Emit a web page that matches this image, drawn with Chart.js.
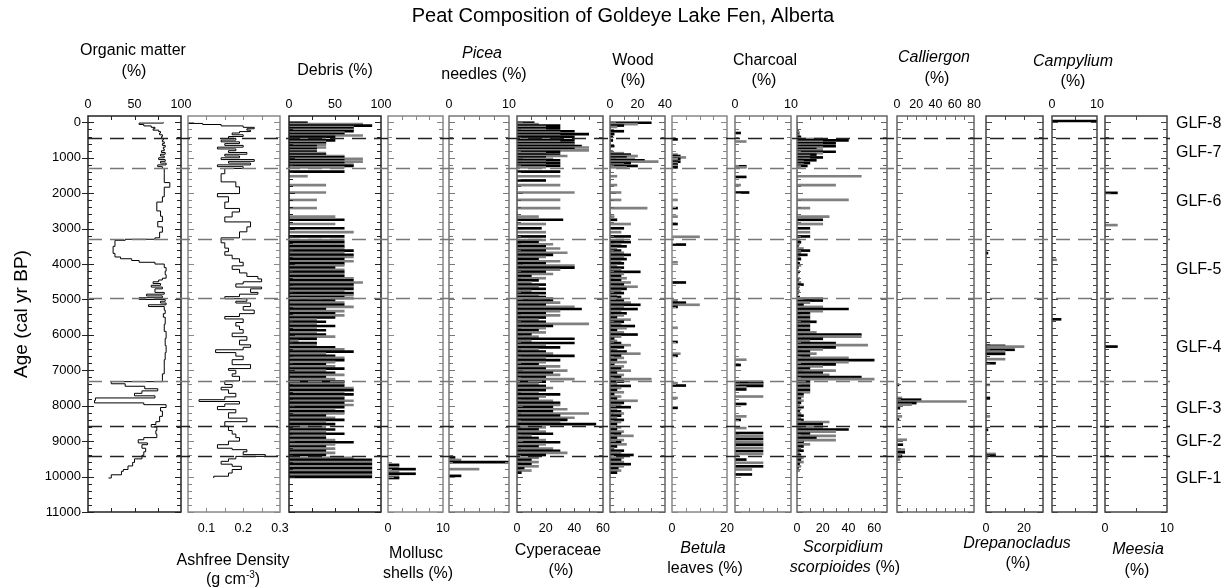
<!DOCTYPE html>
<html>
<head>
<meta charset="utf-8">
<title>Peat Composition of Goldeye Lake Fen, Alberta</title>
<script src="https://cdn.jsdelivr.net/npm/chart.js@4.4.1/dist/chart.umd.min.js"></script>
<style>
  body { margin: 0; background: #fff; }
  #wrap { position: relative; width: 1230px; height: 588px; overflow: hidden;
          font-family: "Liberation Sans", Arial, sans-serif; color: #000; }
  #wrap canvas { position: absolute; top: 0; }
  .lbl { position: absolute; white-space: nowrap; transform: translate(-50%, -50%);
         font-size: 16px; line-height: 1; }
  .lbl sup { font-size: 10px; line-height: 0; }
</style>
</head>
<body>
<div id="wrap"></div>
<script>
// ---- data ----

// macrofossil sample ages, cal yr BP (one line per zone, GLF-8 .. GLF-1)
const sampleAges = [
  10, 50, 90, 130, 170, 210, 250, 290, 330, 370, 410,
  470, 510, 550, 590, 630, 670, 710, 750, 790, 830, 870, 910, 950, 990, 1030, 1070, 1110, 1150, 1190, 1230, 1270,
  1390, 1520, 1640, 1770, 1880, 1980, 2090, 2190, 2310, 2420, 2540, 2660, 2750, 2870, 2990, 3100, 3220,
  3320, 3380, 3440, 3500, 3560, 3620, 3680, 3740, 3800, 3860, 3920, 3980, 4040, 4100, 4160, 4220, 4280, 4340, 4400, 4460, 4520, 4580, 4640, 4700, 4760, 4820, 4880, 4930,
  4970, 5030, 5090, 5150, 5210, 5270, 5330, 5390, 5450, 5510, 5570, 5630, 5690, 5750, 5810, 5870, 5930, 5990, 6050, 6110, 6170, 6230, 6290, 6350, 6410, 6470, 6530, 6590, 6650, 6710, 6770, 6830, 6890, 6950, 7010, 7070, 7130, 7190, 7250,
  7320, 7380, 7440, 7500, 7560, 7620, 7680, 7740, 7800, 7860, 7920, 7980, 8040, 8100, 8160, 8220, 8280, 8340, 8400, 8460, 8520,
  8610, 8670, 8730, 8790, 8850, 8910, 8970, 9030, 9090, 9150, 9210, 9270, 9330, 9390,
  9470, 9530, 9590, 9650, 9710, 9770, 9830, 9890, 9950, 10010
];
const debrisPct = [
  20, 80, 90, 70, 70, 70, 70, 60, 60, 80, 50,
  40, 50, 40, 40, 40, 30, 40, 30, 30, 30, 40, 40, 60, 60, 80, 60, 80, 60, 70, 70, 60,
  60, 20, 0, 40, 0, 40, 0, 30, 0, 30, 0, 50, 60, 50, 60, 70, 60,
  60, 60, 60, 60, 60, 70, 60, 70, 70, 60, 70, 60, 60, 50, 60, 60, 60, 60, 70, 70, 80, 70, 70, 70, 60, 70, 70, 60,
  70, 50, 60, 60, 70, 40, 60, 50, 60, 50, 30, 40, 30, 50, 30, 40, 30, 40, 50, 30, 10, 30, 30, 50, 60, 70, 40, 50, 60, 60, 50, 40, 50, 60, 40, 50, 60, 40, 50,
  60, 60, 60, 70, 70, 60, 70, 60, 60, 70, 60, 70, 60, 50, 60, 60, 40, 50, 60, 40, 50,
  40, 50, 40, 60, 40, 40, 50, 70, 50, 40, 50, 40, 50, 40,
  70, 90, 90, 90, 90, 90, 90, 90, 90, 90
];
const cyperaceaePct = [
  12, 15, 30, 20, 30, 20, 40, 30, 50, 30, 40,
  30, 40, 30, 40, 40, 45, 50, 40, 50, 30, 20, 30, 35, 20, 25, 30, 20, 30, 20, 30, 20,
  30, 30, 20, 30, 0, 40, 0, 30, 0, 30, 0, 15, 32, 20, 17, 20, 20,
  20, 15, 25, 20, 30, 20, 35, 25, 20, 15, 30, 20, 40, 40, 30, 20, 25, 10, 20, 15, 10, 20, 15, 20, 10, 20, 15, 20,
  25, 25, 30, 20, 40, 45, 30, 20, 30, 20, 15, 20, 50, 25, 20, 15, 20, 10, 15, 40, 10, 40, 20, 30, 15, 20, 25, 40, 20, 30, 20, 15, 30, 20, 35, 25, 30, 20, 40,
  20, 15, 20, 25, 20, 15, 30, 20, 15, 25, 30, 30, 25, 35, 25, 50, 30, 40, 35, 30, 55,
  20, 15, 20, 25, 10, 15, 20, 30, 20, 15, 25, 30, 35, 20,
  15, 10, 15, 10, 15, 5, 10, 3, 0, 0
];
const woodPct = [
  30, 20, 10, 5, 0, 0, 10, 0, 3, 0, 2,
  0, 2, 0, 0, 0, 3, 0, 0, 0, 2, 10, 15, 20, 12, 18, 25, 35, 15, 10, 20, 12,
  0, 5, 0, 5, 0, 8, 0, 8, 0, 27, 0, 3, 5, 15, 10, 8, 15,
  10, 15, 8, 12, 5, 8, 10, 15, 10, 12, 8, 10, 5, 10, 8, 22, 10, 8, 12, 8, 15, 10, 20, 12, 8, 10, 5, 8,
  5, 10, 15, 22, 10, 20, 8, 12, 10, 5, 15, 10, 8, 18, 12, 5, 10, 20, 8, 3, 5, 8, 15, 10, 5, 12, 22, 8, 10, 5, 12, 3, 10, 8, 15, 5, 10, 8, 30,
  10, 5, 15, 8, 5, 10, 3, 8, 5, 20, 10, 8, 15, 5, 8, 10, 8, 5, 10, 8, 5,
  8, 5, 10, 8, 17, 5, 10, 8, 12, 5, 3, 10, 8, 17,
  10, 8, 10, 15, 10, 6, 8, 5, 0, 0
];
const scorpidiumPct = [
  0, 0, 0, 0, 0, 0, 1, 2, 1, 2, 3,
  20, 40, 20, 30, 20, 30, 20, 15, 20, 30, 20, 15, 10, 20, 10, 15, 5, 10, 5, 8, 3,
  0, 50, 0, 30, 0, 0, 0, 40, 0, 10, 0, 25, 20, 20, 10, 10, 10,
  2, 3, 2, 1, 5, 10, 3, 8, 2, 3, 1, 2, 3, 1, 0, 2, 1, 0, 2, 1, 3, 5, 2, 1, 2, 1, 0, 2,
  20, 20, 10, 5, 20, 40, 20, 10, 10, 10, 10, 15, 10, 10, 10, 10, 15, 50, 50, 20, 10, 30, 55, 30, 20, 10, 15, 10, 40, 60, 40, 30, 20, 10, 30, 20, 25, 50, 60,
  10, 10, 10, 10, 10, 10, 5, 5, 3, 5, 3, 2, 5, 3, 2, 3, 5, 3, 5, 25, 20,
  20, 40, 30, 10, 30, 15, 30, 5, 10, 5, 3, 5, 2, 3,
  5, 3, 5, 2, 3, 1, 2, 0, 0, 0
];

// loss-on-ignition profiles
const organicAges = [0, 20, 60, 100, 140, 180, 220, 260, 300, 350, 400, 450, 500, 550, 600, 650, 700, 750, 800, 850,
  900, 950, 1000, 1050, 1100, 1150, 1200, 1250, 1300, 1450, 1700, 1830, 2100, 2250, 2500, 2650, 2800, 2950, 3100, 3260,
  3300, 3330, 3500, 3700, 3800, 3850, 3900, 3950, 4000, 4100, 4200, 4300, 4400, 4450, 4500, 4550, 4600, 4650, 4700, 4800,
  4850, 4900, 4950, 5000, 5050, 5100, 5150, 5200, 5300, 5400, 5500, 5700, 5900, 6100, 6300, 6500, 6700, 6900, 7100, 7250,
  7320, 7380, 7450, 7520, 7580, 7650, 7720, 7780, 7850, 7920, 7970, 8050, 8150, 8300, 8450, 8530, 8600, 8700, 8800, 8900,
  8960, 9050, 9100, 9200, 9300, 9400, 9500, 9600, 9700, 9800, 9850, 9950, 10040];
const organicPct = [81, 55, 60, 68, 72, 70, 76, 78, 77, 80, 79, 81, 80, 82, 80, 83, 81, 82, 79, 83,
  78, 82, 76, 83, 78, 84, 75, 80, 82, 82, 88, 82, 80, 74, 78, 80, 75, 80, 77, 72,
  40, 29, 27, 29, 35, 47, 55, 72, 82, 84, 83, 84, 80, 76, 70, 78, 68, 80, 72, 82,
  63, 80, 55, 83, 78, 84, 65, 82, 83, 81, 83, 82, 84, 83, 84, 83, 82, 82, 80, 80,
  25, 40, 61, 75, 58, 50, 72, 8, 7, 60, 84, 78, 80, 77, 73, 68, 74, 73, 74, 60,
  54, 64, 58, 62, 60, 58, 50, 48, 43, 38, 36, 25, 22];

const densityAges = [0, 30, 60, 100, 140, 180, 220, 260, 300, 350, 400, 450, 500, 550, 600, 650, 700, 750, 800, 850,
  900, 950, 1000, 1050, 1100, 1150, 1200, 1250, 1300, 1450, 1680, 1820, 2010, 2100, 2250, 2430, 2530, 2670, 2810, 2950,
  3090, 3260, 3400, 3550, 3650, 3750, 3850, 3950, 4050, 4150, 4250, 4350, 4420, 4500, 4560, 4650, 4700, 4800, 4850, 4920,
  4980, 5050, 5100, 5200, 5300, 5400, 5480, 5550, 5650, 5750, 5850, 5950, 6050, 6150, 6280, 6350, 6420, 6500, 6600, 6700,
  6840, 6950, 7000, 7100, 7170, 7300, 7400, 7480, 7550, 7650, 7750, 7830, 7880, 7950, 8020, 8110, 8200, 8350, 8450, 8580,
  8700, 8800, 8900, 9000, 9100, 9200, 9240, 9300, 9380, 9430, 9500, 9570, 9650, 9710, 9800, 9900, 9990, 10040];
const ashfreeDensity = [0.05, 0.09, 0.14, 0.2, 0.23, 0.21, 0.22, 0.19, 0.17, 0.2, 0.16, 0.18, 0.14, 0.19, 0.15, 0.2, 0.13, 0.18, 0.16, 0.21,
  0.15, 0.19, 0.14, 0.23, 0.16, 0.22, 0.13, 0.2, 0.15, 0.14, 0.18, 0.19, 0.13, 0.16, 0.15, 0.19, 0.17, 0.15, 0.22, 0.21,
  0.19, 0.14, 0.15, 0.16, 0.15, 0.17, 0.19, 0.2, 0.17, 0.19, 0.21, 0.24, 0.25, 0.2, 0.18, 0.25, 0.22, 0.24, 0.19, 0.15,
  0.21, 0.18, 0.22, 0.2, 0.23, 0.19, 0.15, 0.2, 0.18, 0.19, 0.2, 0.17, 0.21, 0.19, 0.22, 0.2, 0.125, 0.18, 0.2, 0.17,
  0.22, 0.16, 0.18, 0.17, 0.19, 0.15, 0.17, 0.14, 0.16, 0.18, 0.15, 0.08, 0.19, 0.15, 0.13, 0.18, 0.16, 0.21, 0.15, 0.16,
  0.17, 0.18, 0.19, 0.16, 0.13, 0.17, 0.21, 0.2, 0.26, 0.18, 0.16, 0.14, 0.17, 0.195, 0.17, 0.16, 0.12, 0.12];

// sparse records (only levels where the taxon was found)
const molluscAges = [9670, 9740, 9790, 9860, 9920, 10000, 10040];
const molluscPct = [2, 2, 5, 2, 5, 2, 2];
const piceaAges = [9460, 9530, 9590, 9790, 9980];
const piceaPct = [1, 2, 10, 5, 2];
const betulaAges = [480, 910, 950, 990, 1030, 1070, 1110, 1150, 1190, 1230, 1270, 2190, 2420, 2660, 2870, 3230,
  3450, 3950, 4520, 5030, 5090, 5150, 5210, 5800, 6200, 6530, 6590, 7360, 7430, 7780, 8060];
const betulaPct = [2, 2, 3, 5, 3, 2, 3, 2, 2, 2, 2, 2, 2, 2, 2, 10, 5, 2, 5, 2, 5, 10, 2, 2, 2, 3, 2, 2, 5, 2, 2];
const charcoalAges = [300, 540, 1240, 1270, 1540, 1770, 1980, 6700, 6850, 7320, 7360, 7400, 7440, 7480, 7540, 7740,
  7950, 8300, 8400, 8630, 8770, 8860, 8940, 9030, 9100, 9190, 9280, 9360, 9520, 9610, 9710, 9800, 9940];
const charcoalPct = [1, 2, 2, 2, 2, 1, 2.5, 2, 1, 5, 5, 5, 5, 2, 2, 5, 2, 2, 1, 2, 5, 5, 5, 5, 5, 5, 5, 5, 2, 5, 5, 3, 3];
const calliergonAges = [7410, 7780, 7830, 7880, 7925, 7970, 8070, 8300, 8390, 8960, 9100, 9240, 9315, 9380, 9430, 9520];
const calliergonPct = [2, 5, 25, 72, 20, 15, 3, 5, 2, 10, 6, 8, 8, 5, 5, 3];
const drepanocladusAges = [3690, 6290, 6310, 6330, 6420, 6470, 6535, 6685, 6800, 7410, 7780, 8300, 8680, 9360, 9410, 9475];
const drepanocladusPct = [1, 2, 10, 20, 15, 10, 10, 10, 5, 2, 2, 2, 1, 5, 5, 1];
const campyliumAges = [-40, 3880, 5560];
const campyliumPct = [10, 1, 2];
const meesiaAges = [1990, 2900, 6330];
const meesiaPct = [2, 2, 2];

// zonation
const zoneBounds = [450, 1300, 3300, 4950, 7300, 8580, 9430];
const zoneNames = ['GLF-8', 'GLF-7', 'GLF-6', 'GLF-5', 'GLF-4', 'GLF-3', 'GLF-2', 'GLF-1'];
const zoneLabelAges = [45, 864, 2237, 4144, 6372, 8093, 9006, 10068];

// tick labels
const ageTicks = [0, 1000, 2000, 3000, 4000, 5000, 6000, 7000, 8000, 9000, 10000, 11000];
const organicTicks = [0, 50, 100];
const densityTicks = [0.1, 0.2, 0.3];
const debrisTicks = [0, 50, 100];
const molluscTicks = [0, 10];
const piceaTicks = [0, 10];
const cyperaceaeTicks = [0, 20, 40, 60];
const woodTicks = [0, 20, 40];
const betulaTicks = [0, 20];
const charcoalTicks = [0, 10];
const scorpidiumTicks = [0, 20, 40, 60];
const calliergonTicks = [0, 20, 40, 60, 80];
const drepanocladusTicks = [0, 20];
const campyliumTicks = [0, 10];
const meesiaTicks = [0, 10];

// ---- layout ----
const FONT = '"Liberation Sans", Arial, sans-serif';
const TOP = 116, BOTTOM = 512, H = 588, AXIS_H = 30;
const AGE_MIN = -180, AGE_MAX = 11000;

Chart.defaults.font.family = FONT;
Chart.defaults.color = '#000';

const panels = [
  { left: 88, right: 181, min: 0, max: 100, minor: 25, axis: 'top', kind: 'step', ages: organicAges, values: organicPct, ticks: organicTicks, frame: '#222', yLabels: true },
  { left: 188, right: 280, min: 0.05, max: 0.3, minor: 0.05, axis: 'bottom', kind: 'step', ages: densityAges, values: ashfreeDensity, ticks: densityTicks, frame: '#888' },
  { left: 289, right: 381, min: 0, max: 100, minor: 25, axis: 'top', kind: 'bar', ages: sampleAges, values: debrisPct, ticks: debrisTicks, frame: '#222' },
  { left: 388, right: 443, min: 0, max: 10, minor: 2.5, axis: 'bottom', kind: 'bar', ages: molluscAges, values: molluscPct, ticks: molluscTicks, frame: '#888' },
  { left: 449, right: 509, min: 0, max: 10, minor: 2.5, axis: 'top', kind: 'bar', ages: piceaAges, values: piceaPct, ticks: piceaTicks, frame: '#777' },
  { left: 517, right: 603, min: 0, max: 60, minor: 10, axis: 'bottom', kind: 'bar', ages: sampleAges, values: cyperaceaePct, ticks: cyperaceaeTicks, frame: '#555' },
  { left: 610, right: 665, min: 0, max: 40, minor: 10, axis: 'top', kind: 'bar', ages: sampleAges, values: woodPct, ticks: woodTicks, frame: '#666' },
  { left: 672, right: 727, min: 0, max: 20, minor: 5, axis: 'bottom', kind: 'bar', ages: betulaAges, values: betulaPct, ticks: betulaTicks, frame: '#888' },
  { left: 735, right: 791, min: 0, max: 10, minor: 2.5, axis: 'top', kind: 'bar', ages: charcoalAges, values: charcoalPct, ticks: charcoalTicks, frame: '#777' },
  { left: 797, right: 887, min: 0, max: 70, minor: 10, axis: 'bottom', kind: 'bar', ages: sampleAges, values: scorpidiumPct, ticks: scorpidiumTicks, frame: '#666' },
  { left: 897, right: 974, min: 0, max: 80, minor: 10, axis: 'top', kind: 'bar', ages: calliergonAges, values: calliergonPct, ticks: calliergonTicks, frame: '#666' },
  { left: 986, right: 1043, min: 0, max: 30, minor: 10, axis: 'bottom', kind: 'bar', ages: drepanocladusAges, values: drepanocladusPct, ticks: drepanocladusTicks, frame: '#444' },
  { left: 1052, right: 1097, min: 0, max: 10, minor: 5, axis: 'top', kind: 'bar', ages: campyliumAges, values: campyliumPct, ticks: campyliumTicks, frame: '#444' },
  { left: 1105, right: 1167, min: 0, max: 10, minor: 5, axis: 'bottom', kind: 'bar', ages: meesiaAges, values: meesiaPct, ticks: meesiaTicks, frame: '#444' }
];

const wrap = document.getElementById('wrap');

// frame, inward tick marks on all four sides
function makeFrame(p) {
  return {
    id: 'frame',
    afterDraw(chart) {
      const { ctx, chartArea: a, scales: { x, y } } = chart;
      ctx.save();
      ctx.strokeStyle = p.frame;
      ctx.lineWidth = 1;
      ctx.beginPath();
      for (let v = 0; v <= 11000; v += 200) {
        const py = Math.round(y.getPixelForValue(v)) + 0.5;
        const len = v % 1000 === 0 ? 6 : 4;
        ctx.moveTo(a.left, py); ctx.lineTo(a.left + len, py);
        ctx.moveTo(a.right, py); ctx.lineTo(a.right - len, py);
        if (p.yLabels && v % 1000 === 0) {
          ctx.moveTo(a.left, py); ctx.lineTo(a.left - 6, py);
        }
      }
      for (let v = p.min + p.minor; v < p.max - 1e-9; v += p.minor) {
        const px = Math.round(x.getPixelForValue(v)) + 0.5;
        ctx.moveTo(px, a.top); ctx.lineTo(px, a.top + 4);
        ctx.moveTo(px, a.bottom); ctx.lineTo(px, a.bottom - 4);
      }
      ctx.stroke();
      ctx.lineWidth = 1.5;
      ctx.strokeRect(a.left, a.top, a.right - a.left, a.bottom - a.top);
      ctx.restore();
    }
  };
}

panels.forEach(p => {
  const yAxisW = p.yLabels ? 88 : 0;
  const padLeft = p.yLabels ? 0 : 50;
  const cLeft = p.left - yAxisW - padLeft;
  const canvas = document.createElement('canvas');
  canvas.width = p.right + 20 - cLeft;
  canvas.height = H;
  canvas.style.left = cLeft + 'px';
  wrap.appendChild(canvas);

  const points = p.ages.map((a, i) => ({ x: p.values[i], y: a }));
  const dataset = p.kind === 'bar'
    ? { data: points, backgroundColor: points.map((pt, i) => i % 2 ? '#808080' : '#000'), barThickness: 2, borderWidth: 0 }
    : { data: points, showLine: true, stepped: 'after', borderColor: '#000', borderWidth: 1, pointRadius: 0, fill: false };

  new Chart(canvas, {
    type: p.kind === 'bar' ? 'bar' : 'scatter',
    data: { datasets: [dataset] },
    options: {
      responsive: false,
      animation: false,
      devicePixelRatio: 1,
      indexAxis: p.kind === 'bar' ? 'y' : 'x',
      layout: {
        padding: {
          left: padLeft, right: 20,
          top: p.axis === 'top' ? TOP - AXIS_H : TOP,
          bottom: p.axis === 'top' ? H - BOTTOM : H - BOTTOM - AXIS_H
        }
      },
      plugins: { legend: { display: false }, tooltip: { enabled: false } },
      scales: {
        x: {
          type: 'linear', position: p.axis, min: p.min, max: p.max,
          grid: { display: false, drawTicks: false }, border: { display: false },
          ticks: { font: { size: 12.5 }, color: '#000', padding: p.axis === 'top' ? 4 : 9,
                   autoSkip: false, maxRotation: 0, callback: v => String(v) },
          afterBuildTicks: s => { s.ticks = p.ticks.map(v => ({ value: v })); },
          afterFit: s => { s.height = AXIS_H; }
        },
        y: {
          type: 'linear', reverse: true, min: AGE_MIN, max: AGE_MAX, offset: false,
          display: !!p.yLabels,
          grid: { display: false, drawTicks: false }, border: { display: false },
          ticks: { font: { size: 13 }, color: '#000', padding: 7, autoSkip: false, callback: v => String(v) },
          title: { display: true, text: 'Age (cal yr BP)', font: { size: 19 }, color: '#000', padding: { top: 10 } },
          afterBuildTicks: s => { s.ticks = ageTicks.map(v => ({ value: v })); },
          afterFit: s => { s.width = yAxisW; }
        }
      }
    },
    plugins: [makeFrame(p)]
  });
});

// overlay: zone boundaries and zone names, on top of all panels
const overlay = document.createElement('canvas');
overlay.width = 1230; overlay.height = H;
overlay.style.left = '0px';
overlay.style.zIndex = 5;
overlay.style.pointerEvents = 'none';
wrap.appendChild(overlay);

const zoneLineColors = ['#222', '#777', '#777', '#777', '#777', '#222', '#222'];
new Chart(overlay, {
  type: 'scatter',
  data: { datasets: [] },
  options: {
    responsive: false, animation: false, devicePixelRatio: 1,
    layout: { padding: { top: TOP, bottom: H - BOTTOM, left: 0, right: 0 } },
    plugins: { legend: { display: false }, tooltip: { enabled: false } },
    scales: {
      x: { display: false, min: 0, max: 1 },
      y: { display: false, reverse: true, min: AGE_MIN, max: AGE_MAX }
    }
  },
  plugins: [{
    id: 'zones',
    afterDraw(chart) {
      const { ctx, scales: { y } } = chart;
      ctx.save();
      ctx.lineWidth = 1.5;
      ctx.setLineDash([14, 8]);
      zoneBounds.forEach((age, i) => {
        const py = Math.round(y.getPixelForValue(age)) + 0.5;
        ctx.strokeStyle = zoneLineColors[i];
        ctx.beginPath();
        ctx.moveTo(88, py);
        ctx.lineTo(1170, py);
        ctx.stroke();
      });
      ctx.setLineDash([]);
      ctx.fillStyle = '#000';
      ctx.font = '16px ' + FONT;
      ctx.textAlign = 'left';
      ctx.textBaseline = 'middle';
      zoneNames.forEach((name, i) => {
        ctx.fillText(name, 1176, y.getPixelForValue(zoneLabelAges[i]));
      });
      ctx.restore();
    }
  }]
});

// titles (HTML text so the taxon names can be italic)
const texts = [
  ['Peat Composition of Goldeye Lake Fen, Alberta', 623, 15, 20],
  ['Organic matter', 133, 50], ['(%)', 134, 71],
  ['Debris (%)', 335, 70],
  ['<i>Picea</i>', 482, 53], ['needles (%)', 484, 74],
  ['Wood', 633, 60], ['(%)', 633, 80],
  ['Charcoal', 765, 60], ['(%)', 764, 80],
  ['<i>Calliergon</i>', 934, 57], ['(%)', 937, 78],
  ['<i>Campylium</i>', 1073, 61], ['(%)', 1073, 81],
  ['Ashfree Density', 233, 560], ['(g cm<sup>-3</sup>)', 233, 579],
  ['Mollusc', 416, 553], ['shells (%)', 418, 573],
  ['Cyperaceae', 558, 550], ['(%)', 561, 570],
  ['<i>Betula</i>', 703, 548], ['leaves (%)', 705, 568],
  ['<i>Scorpidium</i>', 843, 547], ['<i>scorpioides</i> (%)', 845, 567],
  ['<i>Drepanocladus</i>', 1017, 543], ['(%)', 1018, 563],
  ['<i>Meesia</i>', 1138, 549], ['(%)', 1137, 570]
];
texts.forEach(([html, cx, cy, size]) => {
  const d = document.createElement('div');
  d.className = 'lbl';
  d.innerHTML = html;
  d.style.left = cx + 'px';
  d.style.top = cy + 'px';
  if (size) d.style.fontSize = size + 'px';
  wrap.appendChild(d);
});
</script>
</body>
</html>
